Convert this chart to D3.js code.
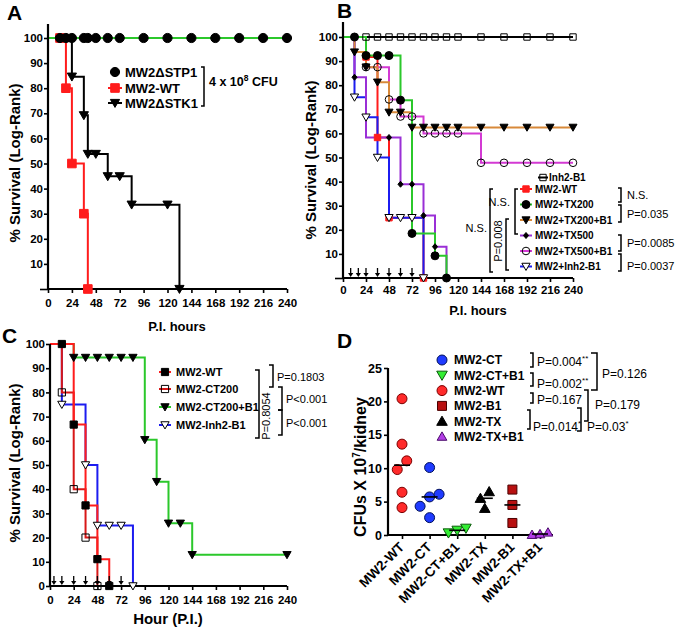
<!DOCTYPE html>
<html><head><meta charset="utf-8">
<script src="https://cdn.jsdelivr.net/npm/d3@7"></script>
<style>
body{margin:0;background:#fff}
svg text{font-family:Arial,"Liberation Sans",sans-serif}
</style>
</head><body>
<svg id="chart" width="675" height="630"></svg>
<script>
// ================= DATA =================
const hourTicks = [0,24,48,72,96,120,144,168,192,216,240];
const survTicks = [0,10,20,30,40,50,60,70,80,90,100];
const cfuTicks = [0,5,10,15,20,25];

// Panel A (event times in hours, survival after each event in %)
const aStp1Time = [0];
const aStp1Surv = [100];
const aStp1Marks = [12,18,24,36,40,48,60,72,96,120,144,168,192,216,240];
const aWtTime = [0,18,24,36,40];
const aWtSurv = [100,80,50,30,0];
const aWtMarks = [12,18,24,36,40];
const aStk1Time = [0,24,36,40,60,84,132];
const aStk1Surv = [100,84.6,69.2,53.8,44.9,33.6,0];
const aStk1Marks = [24,36,40,48,60,72,84,120,132];

// Panel B
const bInhTime = [0];
const bInhSurv = [100];
const bInhMarks = [24,36,48,60,72,84,96,108,120,144,168,192,216,240];
const bWtTime = [0,24,36,48,84];
const bWtSurv = [100,91.7,58.3,25,0];
const bWtMarks = [24,36,48,84];
const bTx200Time = [0,24,60,72,96,108];
const bTx200Surv = [100,92.3,73.8,18.5,9.2,0];
const bTx200Marks = [12,24,36,48,60,72,96,108];
const bTx200b1Time = [0,12,24,36,48,72];
const bTx200b1Surv = [100,93.75,87.5,81.25,68.75,62.5];
const bTx200b1Marks = [12,24,36,48,60,72,84,96,108,120,144,168,192,216,240];
const bTx500Time = [0,12,24,60,84,96,108];
const bTx500Surv = [100,83.3,58.3,38.9,25.9,13,0];
const bTx500Marks = [12,48,60,72,84,96];
const bTx500b1Time = [0,24,48,60,84,144];
const bTx500b1Surv = [100,87.5,74.1,67,60,47.8];
const bTx500b1Marks = [24,36,48,60,72,84,96,108,120,144,168,192,216,240];
const bInhB1Time = [0,12,24,36,48,84];
const bInhB1Surv = [100,75,66.7,50,25,0];
const bInhB1Marks = [12,24,36,48,60,72,84];
const bArrows = [8,16,24,36,48,60,72];

// Panel C
const cWtTime = [0,24,36,48,60];
const cWtSurv = [100,66.7,33.3,11.1,0];
const cWtMarks = [12,24,36,48,60];
const cCt200Time = [0,12,24,36,48];
const cCt200Surv = [100,80,40,20,0];
const cCt200Marks = [12,24,36,48];
const cCtB1Time = [0,24,96,108,120,144];
const cCtB1Surv = [100,94.4,60.4,43.1,25.9,12.9];
const cCtB1Marks = [24,36,48,60,72,84,96,108,120,132,144,240];
const cInhTime = [0,12,36,48,84];
const cInhSurv = [100,75,50,25,0];
const cInhMarks = [12,36,48,60,72,84];
const cArrows = [4,12,24,36,48,60,72];

// Panel D (CFU x 10^7 per kidney)
const dGroups = ["MW2-WT","MW2-CT","MW2-CT+B1","MW2-TX","MW2-B1","MW2-TX+B1"];
const dWt = [20.4,13.6,11.1,9.8,6.4,4.1];
const dCt = [10.1,6.1,5.7,4.3,2.6];
const dCtB1 = [1.0,0.7,0.3];
const dTx = [6.5,5.5,4.0];
const dB1 = [6.8,4.5,1.8];
const dTxB1 = [0.4,0.15,0.05];

// ================= HELPERS =================
const svg = d3.select("#chart");
const GREEN="#2bc82b", RED="#ff1c1c", BLUE="#1c1cf0", ORANGE="#d8893a", PURPLE="#9a2fd6", MAGENTA="#d33ad3";

function shape(type, s){
  switch(type){
    case "circle": return `M${-s},0A${s},${s} 0 1,0 ${s},0A${s},${s} 0 1,0 ${-s},0Z`;
    case "square": return `M${-s},${-s}H${s}V${s}H${-s}Z`;
    case "triDown": return `M${-s*1.15},${-s*0.9}H${s*1.15}L0,${s*1.1}Z`;
    case "triUp": return `M${-s*1.15},${s*0.9}H${s*1.15}L0,${-s*1.1}Z`;
    case "diamond": return `M0,${-s}L${s*0.85},0L0,${s}L${-s*0.85},0Z`;
  }
}
function mark(g,type,x,y,s,fill,stroke,sw){
  g.append("path").attr("d",shape(type,s)).attr("transform",`translate(${x},${y})`)
   .attr("fill",fill).attr("stroke",stroke).attr("stroke-width",sw==null?1:sw);
}
function survAt(times,surv,t){ let v=surv[0]; times.forEach((tt,i)=>{ if(tt<=t) v=surv[i]; }); return v; }
function stepPts(times,surv,end){
  const p = times.map((t,i)=>[t,surv[i]]);
  const last = surv[surv.length-1];
  p.push([last>0?end:times[times.length-1], last]);
  return p;
}
function drawSeries(g,x,y,s){
  g.append("path").datum(stepPts(s.time,s.surv,240))
   .attr("d", d3.line().x(d=>x(d[0])).y(d=>y(d[1])).curve(d3.curveStepAfter))
   .attr("fill","none").attr("stroke",s.color).attr("stroke-width",s.lw||2);
}
function drawMarks(g,x,y,s){
  s.marks.forEach(t=> mark(g,s.shape,x(t),y(survAt(s.time,s.surv,t)),s.size,s.fill,s.stroke||"#000",s.msw||1));
}
function bracketR(g,x,y1,y2,tip){ g.append("path").attr("d",`M${x-tip},${y1}H${x}V${y2}H${x-tip}`).attr("fill","none").attr("stroke","#000").attr("stroke-width",1.5); }
function bracketL(g,x,y1,y2,tip){ g.append("path").attr("d",`M${x+tip},${y1}H${x}V${y2}H${x+tip}`).attr("fill","none").attr("stroke","#000").attr("stroke-width",1.5); }
function txt(g,x,y,s,size,weight,anchor){
  return g.append("text").attr("x",x).attr("y",y).text(s).attr("font-size",size)
   .attr("font-weight",weight||"bold").attr("text-anchor",anchor||"start");
}
function survAxes(g,x,y,opts){
  const ax = g.append("g").attr("transform",`translate(0,${y(0)})`)
    .call(d3.axisBottom(x).tickValues(hourTicks).tickSize(4).tickPadding(opts.xpad).tickSizeOuter(0));
  const ay = g.append("g").attr("transform",`translate(${x(0)},0)`)
    .call(d3.axisLeft(y).tickValues(survTicks).tickSize(4).tickPadding(1).tickSizeOuter(0)
      .tickFormat(d=> (d===0 && !opts.zero) ? "" : d));
  [ax,ay].forEach(a=>{
    a.select(".domain").remove();
    a.selectAll("line").attr("stroke","#000").attr("stroke-width",1.6);
    a.selectAll("text").attr("font-size",11.5).attr("font-weight","bold").attr("fill","#000");
  });
  if(!opts.zero) ay.selectAll(".tick").filter(d=>d===0).select("line").attr("x2",-8);
  g.append("line").attr("x1",x(0)).attr("x2",x(240)).attr("y1",y(0)).attr("y2",y(0)).attr("stroke","#000").attr("stroke-width",2.2);
  g.append("line").attr("x1",x(0)).attr("x2",x(0)).attr("y1",y(0)).attr("y2",opts.ytop).attr("stroke","#000").attr("stroke-width",2.2);
}
function yTitle(g,x,yc,s,size){
  g.append("text").attr("transform",`translate(${x},${yc}) rotate(-90)`).attr("text-anchor","middle")
   .attr("font-size",size).attr("font-weight","bold").text(s);
}
function arrows(g,x,y,list){
  list.forEach(t=>{
    const px=x(t), py=y(0);
    g.append("line").attr("x1",px).attr("x2",px).attr("y1",py-10).attr("y2",py-3).attr("stroke","#000").attr("stroke-width",1.3);
    g.append("path").attr("d",`M${px-2.6},${py-5}H${px+2.6}L${px},${py-1}Z`).attr("fill","#000");
  });
}
function legendRow(g,x,y,s,label,tx,size,lineHalf){
  if(s.color) g.append("line").attr("x1",x-lineHalf).attr("x2",x+lineHalf).attr("y1",y).attr("y2",y).attr("stroke",s.color).attr("stroke-width",2);
  mark(g,s.shape,x,y,s.lsize||s.size,s.fill,s.stroke||"#000",s.msw||1);
  txt(g,tx,y+size*0.36,label,size,"bold");
}

// ================= PANEL A =================
{
  const g = svg.append("g");
  const x = d3.scaleLinear([0,240],[48,287]);
  const y = d3.scaleLinear([0,100],[289,38]);
  const sWt = {time:aWtTime,surv:aWtSurv,marks:aWtMarks,color:RED,shape:"square",size:4.3,fill:RED,stroke:RED};
  const sStk = {time:aStk1Time,surv:aStk1Surv,marks:aStk1Marks,color:"#000",shape:"triDown",size:4,fill:"#000"};
  const sStp = {time:aStp1Time,surv:aStp1Surv,marks:aStp1Marks,color:GREEN,shape:"circle",size:4.6,fill:"#000"};
  [sWt,sStk,sStp].forEach(s=>drawSeries(g,x,y,s));
  survAxes(g,x,y,{xpad:6,zero:false,ytop:24});
  [sWt,sStk,sStp].forEach(s=>drawMarks(g,x,y,s));
  txt(g,7,20,"A",21,"bold");
  yTitle(g,20,163,"% Survival (Log-Rank)",15);
  txt(g,177,331,"P.I. hours",13,"bold","middle");
  legendRow(g,115,72,{...sStp,color:null},"MW2\u0394STP1",125,13,7);
  legendRow(g,115,88,sWt,"MW2-WT",125,13,7);
  legendRow(g,115,103,sStk,"MW2\u0394STK1",125,13,7);
  bracketR(g,204,67,106,3);
  const t = txt(g,209,86,"4 x 10",12.5,"bold");
  t.append("tspan").text("8").attr("font-size",8.5).attr("dy",-5);
  t.append("tspan").text(" CFU").attr("dy",5);
}

// ================= PANEL B =================
{
  const g = svg.append("g");
  const x = d3.scaleLinear([0,240],[343,573]);
  const y = d3.scaleLinear([0,100],[278,37]);
  const S = {
    inh:{time:bInhTime,surv:bInhSurv,marks:bInhMarks,color:"#000",shape:"square",size:3.2,fill:"none"},
    wt:{time:bWtTime,surv:bWtSurv,marks:bWtMarks,color:RED,shape:"square",size:3.2,fill:RED,stroke:RED},
    inhB1:{time:bInhB1Time,surv:bInhB1Surv,marks:bInhB1Marks,color:BLUE,shape:"triDown",size:3.6,fill:"#fff"},
    tx500:{time:bTx500Time,surv:bTx500Surv,marks:bTx500Marks,color:PURPLE,shape:"diamond",size:3,fill:"#000"},
    tx500b1:{time:bTx500b1Time,surv:bTx500b1Surv,marks:bTx500b1Marks,color:MAGENTA,shape:"circle",size:3.8,fill:"none"},
    tx200b1:{time:bTx200b1Time,surv:bTx200b1Surv,marks:bTx200b1Marks,color:ORANGE,shape:"triDown",size:3.5,fill:"#000"},
    tx200:{time:bTx200Time,surv:bTx200Surv,marks:bTx200Marks,color:GREEN,shape:"circle",size:4,fill:"#000"}
  };
  const order=["inh","wt","inhB1","tx500","tx500b1","tx200b1","tx200"];
  order.forEach(k=>drawSeries(g,x,y,S[k]));
  survAxes(g,x,y,{xpad:4,zero:false,ytop:22});
  order.forEach(k=>drawMarks(g,x,y,S[k]));
  arrows(g,x,y,bArrows);
  txt(g,337,18,"B",21,"bold");
  yTitle(g,316,160,"% Survival (Log-Rank)",15);
  txt(g,478,315,"P.I. hours",13,"bold","middle");
  // legend
  legendRow(g,543,177.5,S.inh,"Inh2-B1",549,10,5);
  const rows=[["wt","MW2-WT"],["tx200","MW2+TX200"],["tx200b1","MW2+TX200+B1"],["tx500","MW2+TX500"],["tx500b1","MW2+TX500+B1"],["inhB1","MW2+Inh2-B1"]];
  rows.forEach((r,i)=> legendRow(g,526,189+i*15.5,S[r[0]],r[1],535,10,6));
  bracketR(g,621,188,202,3); txt(g,627,199,"N.S.",11,"normal");
  bracketR(g,621,205,222,3); txt(g,627,218,"P=0.035",11,"normal");
  bracketR(g,621,235,251,3); txt(g,627,247,"P=0.0085",11,"normal");
  bracketR(g,621,254,271,3); txt(g,627,270,"P=0.0037",11,"normal");
  bracketL(g,515,189,234,3); txt(g,510,206,"N.S.",11,"normal","end");
  bracketL(g,490,189,272,3); txt(g,487,232,"N.S.",11,"normal","end");
  bracketL(g,506,219,270,3);
  g.append("text").attr("transform","translate(502,241) rotate(-90)").attr("text-anchor","middle").attr("font-size",11).text("P=0.008");
}

// ================= PANEL C =================
{
  const g = svg.append("g");
  const x = d3.scaleLinear([0,240],[50,287]);
  const y = d3.scaleLinear([0,100],[586,344]);
  const S = {
    b1:{time:cCtB1Time,surv:cCtB1Surv,marks:cCtB1Marks,color:GREEN,shape:"triDown",size:3.6,fill:"#000"},
    inh:{time:cInhTime,surv:cInhSurv,marks:cInhMarks,color:BLUE,shape:"triDown",size:3.6,fill:"#fff"},
    ct:{time:cCt200Time,surv:cCt200Surv,marks:cCt200Marks,color:"#d81818",shape:"square",size:3.6,fill:"none"},
    wt:{time:cWtTime,surv:cWtSurv,marks:cWtMarks,color:RED,shape:"square",size:3.6,fill:"#000"}
  };
  const order=["b1","inh","ct","wt"];
  order.forEach(k=>drawSeries(g,x,y,S[k]));
  survAxes(g,x,y,{xpad:6,zero:true,ytop:344});
  order.forEach(k=>drawMarks(g,x,y,S[k]));
  arrows(g,x,y,cArrows);
  txt(g,2,343,"C",21,"bold");
  yTitle(g,20,463,"% Survival (Log-Rank)",15);
  txt(g,168,624,"Hour (P.I.)",15,"bold","middle");
  const rows=[["wt","MW2-WT",372],["ct","MW2-CT200",389],["b1","MW2-CT200+B1",407],["inh","MW2-Inh2-B1",425]];
  rows.forEach(r=> legendRow(g,165,r[2],S[r[0]],r[1],176,11,6));
  bracketR(g,259,370,438,4);
  g.append("text").attr("transform","translate(270,416) rotate(-90)").attr("text-anchor","middle").attr("font-size",11).text("P=0.8054");
  bracketR(g,273,365,387,4); txt(g,277,381,"P=0.1803",11,"normal");
  bracketR(g,282,387,410,4); txt(g,286,403,"P<0.001",11,"normal");
  bracketR(g,282,410,435,4); txt(g,286,427,"P<0.001",11,"normal");
}

// ================= PANEL D =================
{
  const g = svg.append("g");
  const x = d3.scalePoint(dGroups,[402,540]);
  const y = d3.scaleLinear([0,25],[535,368]);
  const styles = {
    "MW2-WT":{shape:"circle",size:5,fill:"#ff2a2a",stroke:"#7a0000"},
    "MW2-CT":{shape:"circle",size:5,fill:"#1f3bff",stroke:"#00105a"},
    "MW2-CT+B1":{shape:"triDown",size:4.6,fill:"#33ee33",stroke:"#0a5a0a"},
    "MW2-TX":{shape:"triUp",size:4.6,fill:"#000",stroke:"#000"},
    "MW2-B1":{shape:"square",size:4.5,fill:"#b81010",stroke:"#4a0000"},
    "MW2-TX+B1":{shape:"triUp",size:4.2,fill:"#b23ee6",stroke:"#4a0a6a"}
  };
  const vals = [dWt,dCt,dCtB1,dTx,dB1,dTxB1];
  // axes
  const ax = g.append("g").attr("transform",`translate(0,${y(0)})`)
    .call(d3.axisBottom(x).tickSize(4).tickFormat("").tickSizeOuter(0));
  const ay = g.append("g").attr("transform",`translate(388,0)`)
    .call(d3.axisLeft(y).tickValues(cfuTicks).tickSize(4).tickPadding(2).tickSizeOuter(0));
  [ax,ay].forEach(a=>{ a.select(".domain").remove(); a.selectAll("line").attr("stroke","#000").attr("stroke-width",1.6);
    a.selectAll("text").attr("font-size",12.5).attr("font-weight","bold").attr("fill","#000"); });
  g.append("line").attr("x1",388).attr("x2",553).attr("y1",y(0)).attr("y2",y(0)).attr("stroke","#000").attr("stroke-width",2.2);
  g.append("line").attr("x1",388).attr("x2",388).attr("y1",y(0)).attr("y2",y(25)).attr("stroke","#000").attr("stroke-width",2.2);
  // points with simple dodge of overlapping markers
  vals.forEach((arr,gi)=>{
    const name=dGroups[gi], st=styles[name], cx=x(name);
    const sorted = arr.map(v=>v).sort((a,b)=>a-b);
    const clusters=[]; let cur=[sorted[0]];
    for(let i=1;i<sorted.length;i++){
      if(y(cur[cur.length-1])-y(sorted[i]) < st.size*2) cur.push(sorted[i]); else {clusters.push(cur); cur=[sorted[i]];}
    }
    clusters.push(cur);
    clusters.forEach(c=> c.forEach((v,i)=>{
      const off=(i-(c.length-1)/2)*st.size*1.9;
      mark(g,st.shape,cx+off,y(v),st.size,st.fill,st.stroke,1);
    }));
    const med=d3.median(arr);
    g.append("line").attr("x1",cx-8).attr("x2",cx+8).attr("y1",y(med)).attr("y2",y(med)).attr("stroke","#000").attr("stroke-width",1.6);
    g.append("text").attr("transform",`translate(${cx+3},${y(0)+13}) rotate(-45)`).attr("text-anchor","end")
      .attr("font-size",13.5).attr("font-weight","bold").text(name);
  });
  txt(g,337,348,"D",21,"bold");
  const yt = g.append("text").attr("transform","translate(366,467) rotate(-90)").attr("text-anchor","middle")
    .attr("font-size",16).attr("font-weight","bold").text("CFUs X 10");
  yt.append("tspan").text("7").attr("font-size",10).attr("dy",-6);
  yt.append("tspan").text("/kidney").attr("dy",6);
  // legend
  const lOrder=["MW2-CT","MW2-CT+B1","MW2-WT","MW2-B1","MW2-TX","MW2-TX+B1"];
  lOrder.forEach((n,i)=>{ const st=styles[n]; const yy=360+i*15.3;
    mark(g,st.shape,442,yy,st.size,st.fill,st.stroke,1); txt(g,454,yy+4.4,n,12,"bold"); });
  function ptxt(x0,y0,main,sup){ const t=txt(g,x0,y0,main,12,"normal"); if(sup){ t.append("tspan").text(sup).attr("font-size",8).attr("dy",-5);} }
  bracketR(g,533,353,367,3); ptxt(537,366,"P=0.004","**");
  bracketR(g,533,373,386,3); ptxt(537,388,"P=0.002","**");
  bracketR(g,533,393,403,3); ptxt(537,404,"P=0.167");
  bracketR(g,597,353,390,6); ptxt(602,378,"P=0.126");
  bracketR(g,588,390,421,4); ptxt(595,409,"P=0.179");
  bracketR(g,530,410,429,3); ptxt(533,431,"P=0.014","*");
  bracketR(g,581,408,431,4); ptxt(587,431,"P=0.03","*");
}
</script>
</body></html>
